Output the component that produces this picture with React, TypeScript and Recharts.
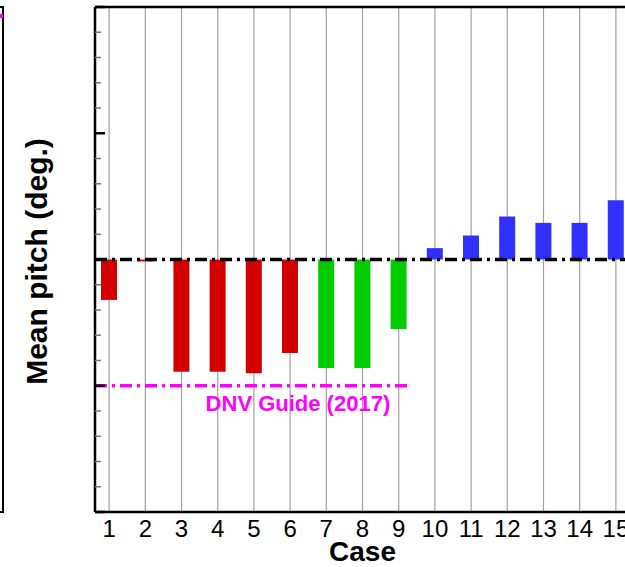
import { Bar, CartesianGrid, Cell, ComposedChart, Label, ReferenceLine, XAxis, YAxis } from "recharts";

const cases = [1, 2, 3, 4, 5, 6, 7, 8, 9, 10, 11, 12, 13, 14, 15];
const meanPitch = [-0.32, -0.015, -0.89, -0.89, -0.9, -0.74, -0.86, -0.86, -0.55, 0.09, 0.19, 0.34, 0.29, 0.29, 0.47];
const groups = ["a", "a", "a", "a", "a", "a", "b", "b", "b", "c", "c", "c", "c", "c", "c"];
const majorTicks = [-2, -1, 0, 1, 2];
const minorTicks = [
  -2, -1.8, -1.6, -1.4, -1.2, -1, -0.8, -0.6, -0.4, -0.2, 0, 0.2, 0.4, 0.6, 0.8, 1, 1.2, 1.4, 1.6, 1.8, 2,
];
const dnvLimit = -1;
const dnvRange = [0.61, 9.28];

const groupColors: Record<string, string> = { a: "#d20000", b: "#00cc00", c: "#3030ff" };
const font = "'Liberation Sans', Arial, sans-serif";

const data = cases.map((c, i) => ({ case: c, pitch: meanPitch[i], group: groups[i] }));

// inward tick marks: long black at whole degrees, short grey in between
const YTick = (props: any) => {
  const { x, y, payload } = props;
  const major = majorTicks.includes(payload.value);
  return (
    <line
      x1={x}
      x2={x + (major ? 10 : 6)}
      y1={y}
      y2={y}
      stroke={major ? "#000" : "#777"}
      strokeWidth={major ? 2.5 : 1.5}
    />
  );
};

export default function App() {
  return (
    <div style={{ position: "fixed", left: 0, top: 0, width: 625, height: 567, overflow: "hidden", background: "#fff" }}>
      {/* edge of the neighbouring panel */}
      <div
        style={{
          position: "absolute",
          left: 0,
          top: 6,
          width: 2,
          height: 503,
          borderTop: "2px solid #000",
          borderBottom: "2px solid #000",
          borderRight: "2.5px solid #000",
        }}
      />
      <div style={{ position: "absolute", left: 0, top: 14, width: 3, height: 4, background: "#ff00ff" }} />
      <div style={{ position: "absolute", left: 0, top: 0 }}>
        <ComposedChart width={641} height={567} data={data} margin={{ top: 6, right: 11, bottom: 0, left: 95 }}>
          <CartesianGrid horizontal={false} stroke="#a0a0a0" strokeWidth={1.2} />
          <XAxis
            dataKey="case"
            type="number"
            domain={[0.61, 15.39]}
            ticks={cases}
            interval={0}
            allowDataOverflow
            height={55}
            tickLine={false}
            axisLine={{ stroke: "#000", strokeWidth: 2.5 }}
            tick={{ fill: "#000", fontSize: 24, fontFamily: font }}
          >
            <Label
              value="Case"
              position="insideBottom"
              offset={6}
              style={{ fill: "#000", fontSize: 28, fontWeight: "bold", fontFamily: font }}
            />
          </XAxis>
          <XAxis
            xAxisId="top"
            orientation="top"
            type="number"
            domain={[0.61, 15.39]}
            allowDataOverflow
            height={1}
            tick={false}
            tickLine={false}
            axisLine={{ stroke: "#000", strokeWidth: 2.5 }}
          />
          <YAxis
            type="number"
            domain={[-2, 2]}
            ticks={minorTicks}
            interval={0}
            width={1}
            mirror
            tick={YTick}
            tickSize={0}
            tickMargin={0}
            tickLine={false}
            axisLine={{ stroke: "#000", strokeWidth: 2.5 }}
          >
            <Label
              content={(props: any) => {
                const vb = props.viewBox;
                const cx = 47;
                const cy = vb.y + vb.height / 2 + 2;
                return (
                  <text
                    x={cx}
                    y={cy}
                    transform={`rotate(-90, ${cx}, ${cy})`}
                    textAnchor="middle"
                    fill="#000"
                    fontSize={30}
                    fontWeight="bold"
                    fontFamily={font}
                  >
                    Mean pitch (deg.)
                  </text>
                );
              }}
            />
          </YAxis>
          <Bar dataKey="pitch" barSize={16} isAnimationActive={false}>
            {data.map((d) => (
              <Cell key={d.case} fill={groupColors[d.group]} />
            ))}
          </Bar>
          <ReferenceLine y={0} stroke="#000" strokeWidth={3.5} strokeDasharray="12 5 3 5" />
          <ReferenceLine
            segment={[
              { x: dnvRange[0], y: dnvLimit },
              { x: dnvRange[1], y: dnvLimit },
            ]}
            stroke="#ff00ff"
            strokeWidth={3.5}
            strokeDasharray="12 5 3 5"
            label={{
              content: (props: any) => {
                const vb = props.viewBox;
                return (
                  <text
                    x={vb.x + vb.width / 2 + 46}
                    y={vb.y + 25}
                    textAnchor="middle"
                    fill="#ff00ff"
                    fontSize={22}
                    fontWeight="bold"
                    fontFamily={font}
                  >
                    DNV Guide (2017)
                  </text>
                );
              },
            }}
          />
        </ComposedChart>
      </div>
    </div>
  );
}
